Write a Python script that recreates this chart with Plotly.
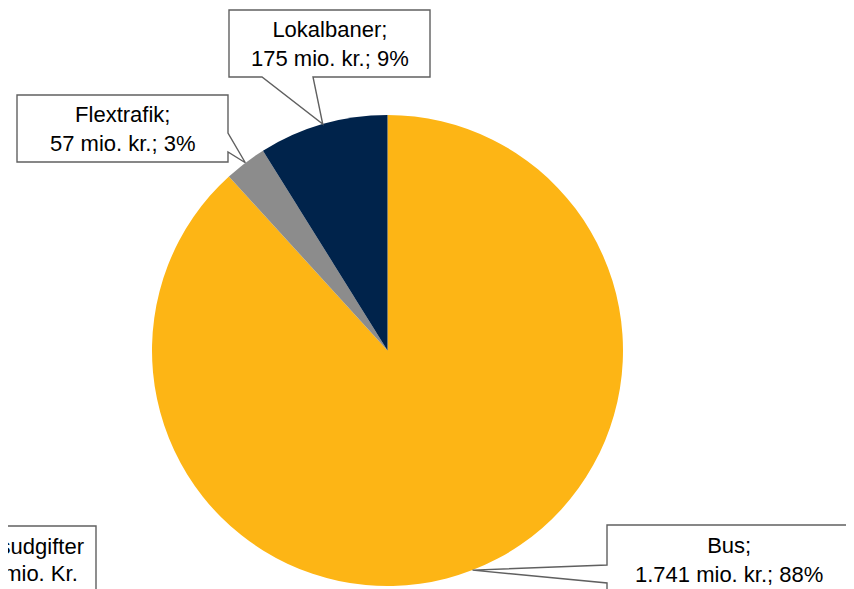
import math
import plotly.graph_objects as go

# ---- data ----
categories = ["Bus", "Flextrafik", "Lokalbaner"]
values = [1741, 57, 175]
colors = ["#FDB515", "#8C8C8C", "#00234B"]
total_label_lines = ["Samlede driftsudgifter", "1.973 mio. Kr."]

W, H = 854, 589
OFF = 8  # page body margin
CX, CY, R = 387.5, 350.5, 235.5

def px(x):
    return (x - OFF) / W

def py(y):
    return 1 - (y - OFF) / H

total = sum(values)

def fmt(v):
    return f"{v:,}".replace(",", ".")

labels = [f"{c};<br>{fmt(v)} mio. kr.; {round(v / total * 100)}%" for c, v in zip(categories, values)]

# tip points at the middle of each slice's edge (clockwise from 12 o'clock)
tips = []
cum = 0
for v in values:
    mid = (cum + v / 2) / total * 2 * math.pi
    tips.append((CX + R * math.sin(mid), CY - R * math.cos(mid)))
    cum += v

fig = go.Figure(go.Pie(
    labels=categories, values=values, sort=False, direction="clockwise", rotation=0,
    marker=dict(colors=colors, line=dict(width=0)),
    textinfo="none", hoverinfo="skip", showlegend=False,
    domain=dict(x=[px(CX - R), px(CX + R)], y=[py(CY + R), py(CY - R)]),
))

LINE = dict(color="#606060", width=1.4)

def path(pts):
    return "M " + " L ".join(f"{px(x):.5f},{py(y):.5f}" for x, y in pts) + " Z"

shapes = []
bt = tips[0]
shapes.append(dict(type="path", xref="paper", yref="paper", fillcolor="white", line=LINE,
                   path=path([(607, 525), (850, 525), (850, 640), (607, 640), (607, 583), bt, (607, 565)])))
ft = tips[1]
shapes.append(dict(type="path", xref="paper", yref="paper", fillcolor="white", line=LINE,
                   path=path([(17, 95), (228, 95), (228, 133), ft, (228, 152), (228, 162), (17, 162)])))
lt = tips[2]
shapes.append(dict(type="path", xref="paper", yref="paper", fillcolor="white", line=LINE,
                   path=path([(229, 10), (430, 10), (430, 77), (313, 77), lt, (262, 77), (229, 77)])))
shapes.append(dict(type="rect", xref="paper", yref="paper", fillcolor="white", line=LINE,
                   x0=px(-160), x1=px(96), y0=py(660), y1=py(526)))

FONT = dict(family="Arial, Liberation Sans, sans-serif", size=22, color="#000000")

def ann(text, x, y, xanchor="center"):
    return dict(text=text, x=px(x), y=py(y), xref="paper", yref="paper", showarrow=False,
                font=FONT, xanchor=xanchor, yanchor="middle", align="center")

annotations = [
    ann(labels[0], 728.5, 560),
    ann(labels[1], 122.5, 129),
    ann(labels[2], 329.5, 44),
    ann(total_label_lines[0], 86, 546, "right"),
    ann(total_label_lines[1], 80, 573, "right"),
]

fig.update_layout(
    width=W, height=H, margin=dict(l=0, r=0, t=0, b=0),
    paper_bgcolor="white", plot_bgcolor="white",
    shapes=shapes, annotations=annotations,
)

fig.write_html("out.html")
